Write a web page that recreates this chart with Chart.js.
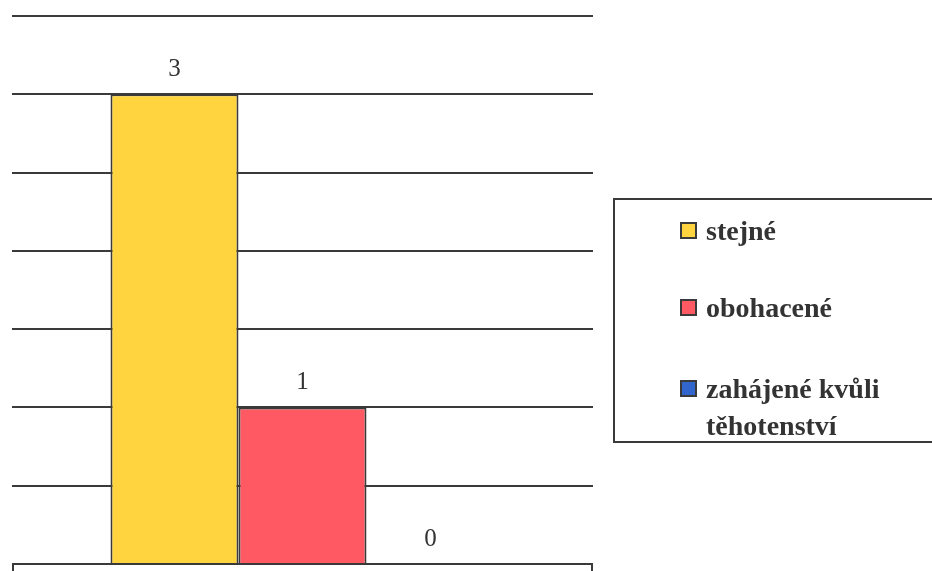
<!DOCTYPE html>
<html>
<head>
<meta charset="utf-8">
<script src="https://cdn.jsdelivr.net/npm/chart.js@4/dist/chart.umd.min.js"></script>
<style>
  body { margin: 0; background: #fff; }
  #wrap { position: relative; width: 932px; height: 571px; overflow: hidden; }
  #legenda {
    position: absolute; left: 613px; top: 198px; width: 330px; height: 245px;
    border: 2px solid #3a3a3a; box-sizing: border-box;
    font-family: "Liberation Serif", "Times New Roman", serif; font-weight: bold;
    font-size: 28px; color: #333;
  }
  .item { position: absolute; left: 65px; line-height: 37px; }
  .item .box {
    position: absolute; left: 0; top: 10px; width: 17px; height: 17px;
    border: 2px solid #3a3a3a; box-sizing: border-box;
  }
  .item .txt { margin-left: 26px; display: block; }
</style>
</head>
<body>
<div id="wrap">
  <canvas id="grafico" width="932" height="571"></canvas>
  <div id="legenda"></div>
</div>
<script>
// dados
const kategorie = [""];
const nazvy = ["stejné", "obohacené", "zahájené kvůli|těhotenství"];
const hodnoty = [3, 1, 0];
const barvy = ["#ffd43f", "#ff5a64", "#3366cc"];
const osa_y = { min: 0, max: 3.5, krok: 0.5 };

// popisky nad sloupci + malé zarážky na spodní čáře
const popiskyPlugin = {
  id: "popisky",
  afterDatasetsDraw(chart) {
    const ctx = chart.ctx;
    ctx.save();
    ctx.font = "25px 'Liberation Serif', serif";
    ctx.fillStyle = "#333";
    ctx.textAlign = "center";
    ctx.textBaseline = "alphabetic";
    chart.data.datasets.forEach((ds, i) => {
      const bar = chart.getDatasetMeta(i).data[0];
      ctx.fillText(String(ds.data[0]), bar.x, bar.y - 18);
    });
    const a = chart.chartArea;
    ctx.strokeStyle = "#3a3a3a";
    ctx.lineWidth = 2;
    ctx.beginPath();
    ctx.moveTo(a.left + 1, a.bottom);
    ctx.lineTo(a.left + 1, a.bottom + 7);
    ctx.moveTo(a.right - 1, a.bottom);
    ctx.lineTo(a.right - 1, a.bottom + 7);
    ctx.stroke();
    ctx.restore();
  },
};

new Chart("grafico", {
  type: "bar",
  data: {
    labels: kategorie,
    datasets: nazvy.map((n, i) => ({
      label: n.replace("|", " "),
      data: [hodnoty[i]],
      backgroundColor: barvy[i],
      borderColor: "#3a3a3a",
      borderWidth: 2,
      barPercentage: 1,
      categoryPercentage: 0.661,
    })),
  },
  options: {
    responsive: false,
    animation: false,
    devicePixelRatio: 1,
    layout: { padding: { left: 12, top: 16, right: 339, bottom: 7 } },
    plugins: {
      legend: { display: false },
      tooltip: { enabled: false },
    },
    scales: {
      x: { display: false },
      y: {
        min: osa_y.min,
        max: osa_y.max,
        ticks: { display: false, stepSize: osa_y.krok },
        grid: { color: "#3a3a3a", lineWidth: 2, drawTicks: false },
        border: { display: false },
      },
    },
  },
  plugins: [popiskyPlugin],
});

// legenda vlastní (HTML)
const leg = document.getElementById("legenda");
const topy = [12, 89, 170];
nazvy.forEach((n, i) => {
  const d = document.createElement("div");
  d.className = "item";
  d.style.top = topy[i] + "px";
  const radky = n.split("|").map((r) => `<span class="txt">${r}</span>`).join("");
  d.innerHTML = `<span class="box" style="background:${barvy[i]}"></span>${radky}`;
  leg.appendChild(d);
});
</script>
</body>
</html>
